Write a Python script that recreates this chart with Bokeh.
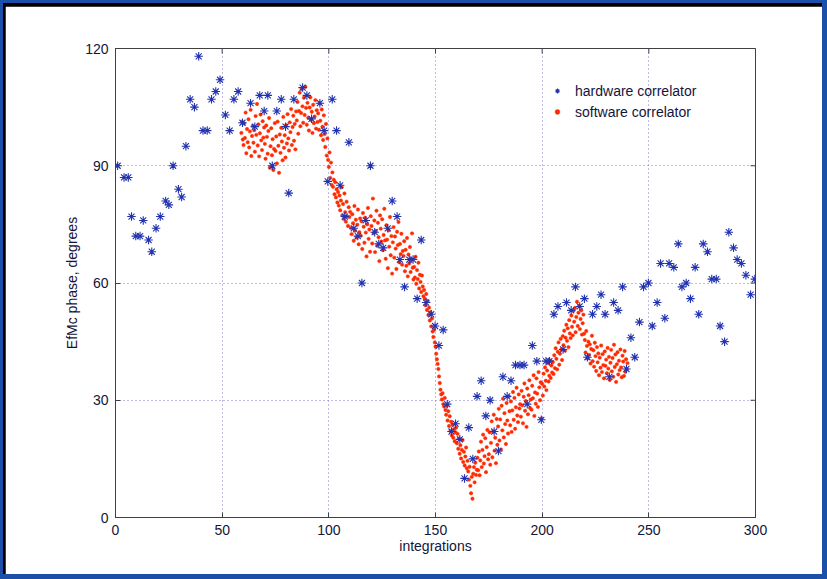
import math
from bokeh.plotting import figure
from bokeh.models import Range1d, Legend, LegendItem, FixedTicker, ColumnDataSource
from bokeh.embed import file_html
from bokeh.resources import INLINE

# ---------------- data ----------------
x_ticks = [0, 50, 100, 150, 200, 250, 300]
y_ticks = [0, 30, 60, 90, 120]

hw_x = [1, 4, 6, 7.5, 9.5, 11.5, 13, 15.5, 17, 19, 21, 23.5, 25, 27, 29.5, 31, 33, 35, 37, 39,
        41, 43, 45, 47, 49, 51.5, 53.5, 55.5, 57.5, 59.5, 63.3, 65.3, 67.6, 69.7, 71.4, 73.5,
        75.6, 77.7, 79.7, 81.2, 83.6, 87.7, 89.7, 91.9, 95.8, 97.8, 99.5, 101.6, 103.6, 105.3,
        107.5, 109.4, 111.7, 113.6, 115.5, 117.3, 119.5, 121.5, 123.4, 125.5, 127.6, 129.7,
        132, 133.3, 135.5, 137.7, 139.5, 141.4, 143.3, 145.6, 148, 149.8, 151.6, 153.6, 155.5,
        157.5, 159.4, 161.4, 163.6, 165.6, 167.5, 169.5, 171.4, 173.6, 175.6, 177.5, 179.5,
        181.6, 183.6, 185.4, 187.5, 189.6, 191.5, 193, 195.4, 197.5, 199.6, 201.8, 203.4,
        205.5, 207.4, 209.8, 211.4, 213.6, 215.6, 217.6, 219.8, 221.2, 223.6, 225.6, 227.6,
        229.5, 231.5, 233.5, 235.6, 237.7, 239.5, 241.6, 243.4, 245.6, 247.5, 249.8, 251.6,
        253.9, 255.5, 257.5, 259.5, 261.7, 263.8, 265.5, 267.5, 269.5, 271.7, 273.4, 275.5,
        277.5, 279.5, 281.6, 283.4, 285.5, 287.5, 289.7, 291.4, 293.4, 295.5, 297.7, 299.7]
hw_y = [90, 87, 87, 77, 72, 72, 76, 71, 68, 74, 77, 81, 80, 90, 84, 82, 95, 107, 105, 118,
        99, 99, 107, 109, 112, 103, 99, 107, 109, 101, 106, 100, 108, 104, 108, 90,
        104, 107, 100, 83, 107, 110, 108, 102, 106, 99, 86, 107, 99, 85,
        77, 96, 74, 72, 60, 76, 90, 73, 70, 69, 74, 81,
        77, 66, 59, 66, 66, 56, 71, 55, 52, 49, 44, 48, 29,
        22, 24, 20, 10, 23, 15, 31, 35, 26, 30, 22, 17,
        36, 31, 35, 39, 39, 39, 29, 44, 40, 25, 40, 40,
        52, 54, 43, 55, 53, 59, 54, 56, 41, 52, 54, 57,
        52, 36, 55, 53, 59, 38, 46, 41, 50, 59, 60, 49,
        55, 65, 51, 65, 64, 70, 59, 60, 56, 64, 52, 70,
        68, 61, 61, 49, 45, 73, 69, 66, 65, 62, 57, 61]

# software correlator: three samples per integration, starting at integration 59
sw_start = 59.0
sw_per_integration = 3
sw_y = [98.4, 101.2, 96.7,
        95.3, 100.8, 97.1, 103.6, 93.2, 99.4, 96.0, 101.9, 94.7, 98.8, 104.3, 92.5, 97.6, 100.2, 95.9,
        99.1, 93.6, 102.7, 97.9, 105.8, 95.2, 100.6, 92.4, 98.3, 103.1, 96.5, 94.0, 101.4, 97.2, 99.8,
        95.6, 91.8, 100.3, 97.4, 93.1, 98.9, 102.2, 89.5, 95.0, 99.6, 92.7, 96.8, 88.9, 94.3, 100.9,
        93.8, 97.5, 90.6, 101.3, 95.1, 88.2, 98.0, 93.3, 99.7, 96.2, 91.4, 102.5, 94.6, 97.8, 92.1,
        100.4, 95.7, 103.2, 97.0, 93.9, 101.1, 98.6, 104.5, 95.3, 99.9, 102.8, 96.4, 100.7, 94.2, 103.9,
        101.6, 106.3, 98.2, 104.0, 108.7, 100.1, 103.5, 109.6, 105.2, 101.0, 107.4, 103.0, 110.2, 104.8, 100.5,
        106.1, 102.3, 99.0, 104.9, 107.5, 101.7, 103.8, 98.4, 105.6, 100.9, 102.6, 106.8, 99.5, 104.2, 101.2,
        103.4, 99.2, 106.0, 101.5, 97.8, 104.4, 100.0, 96.6, 102.9, 98.1, 94.8, 100.7, 92.6, 97.0, 91.5,
        89.7, 93.4, 86.9, 90.8, 85.1, 88.3, 84.6, 86.4, 82.7, 85.8, 81.9, 84.0, 80.6, 83.3, 79.8,
        82.4, 78.6, 81.1, 84.5, 77.3, 80.2, 76.4, 82.9, 78.1, 75.7, 80.8, 77.0, 74.6, 79.4, 76.9,
        78.2, 74.1, 72.5, 77.6, 75.3, 70.8, 79.7, 73.4, 76.2, 71.6, 74.9, 78.8, 69.9, 73.0, 76.5,
        72.1, 75.8, 68.7, 77.9, 74.4, 70.3, 76.7, 72.9, 66.8, 75.0, 79.2, 71.3, 73.7, 68.0, 77.1,
        74.6, 70.1, 81.6, 72.8, 76.0, 67.9, 73.3, 78.5, 69.5, 75.4, 71.7, 65.6, 77.3, 73.9, 70.6,
        76.3, 68.4, 72.3, 79.0, 70.9, 66.2, 74.8, 71.1, 63.8, 73.5, 69.3, 76.9, 67.1, 72.0, 62.4,
        70.4, 74.3, 66.5, 71.9, 68.8, 63.6, 73.1, 69.7, 75.6, 65.3, 70.0, 67.4, 72.6, 64.7, 68.2,
        66.9, 70.7, 63.0, 68.5, 64.4, 71.5, 61.7, 67.3, 65.0, 69.2, 62.8, 66.0, 72.7, 63.9, 60.9,
        64.1, 61.4, 66.7, 59.8, 63.3, 61.0, 65.2, 58.6, 62.1, 60.3, 57.7, 61.9, 59.1, 56.6, 58.2,
        56.0, 54.3, 57.2, 53.1, 55.4, 51.8, 53.7, 50.4, 52.5, 48.9, 50.9, 47.6, 46.2, 48.0, 44.8,
        43.7, 41.9, 40.5, 39.3, 38.0, 36.1, 34.4, 32.7, 31.5, 30.2, 31.8, 29.0, 28.4, 30.6, 27.5,
        26.3, 28.6, 24.8, 27.2, 23.4, 25.9, 22.1, 24.5, 21.0, 23.7, 20.4, 22.6, 19.5, 21.8, 23.0,
        19.0, 21.4, 17.6, 20.2, 16.3, 18.5, 15.1, 17.3, 19.8, 14.2, 16.8, 13.3, 15.6, 17.9, 12.6,
        14.5, 11.8, 9.7, 13.0, 8.1, 6.2, 10.4, 4.8, 11.2, 12.9, 9.0, 14.0, 10.9, 12.2, 15.3,
        12.1, 16.9, 10.8, 14.6, 19.4, 12.9, 17.3, 21.2, 13.8, 15.7, 20.3, 11.6, 18.0, 22.4, 14.9,
        16.2, 21.8, 13.5, 19.1, 24.6, 15.4, 22.0, 26.3, 17.1, 20.4, 13.9, 25.2, 18.6, 23.3, 27.8,
        19.7, 25.1, 17.4, 28.6, 22.3, 30.4, 20.5, 26.7, 23.9, 18.8, 29.3, 24.8, 21.5, 31.0, 27.2,
        23.6, 29.7, 21.9, 27.4, 32.1, 25.0, 30.6, 22.7, 28.2, 33.2, 26.1, 24.4, 31.5, 27.9, 29.0,
        25.8, 32.4, 28.7, 24.1, 30.9, 34.3, 27.3, 29.8, 23.2, 33.0, 26.4, 31.3, 35.1, 28.0, 30.2,
        27.6, 33.7, 30.5, 36.4, 26.0, 32.0, 29.1, 35.6, 31.7, 28.3, 37.2, 33.3, 30.0, 34.6, 25.3,
        34.2, 31.2, 36.8, 33.5, 38.4, 35.0, 32.6, 37.6, 39.5, 34.8, 36.3, 40.2, 35.7, 38.9, 37.1,
        39.8, 36.7, 41.5, 38.2, 43.3, 40.6, 37.9, 42.4, 44.8, 39.1, 41.9, 45.7, 43.0, 40.3, 46.4,
        44.1, 47.8, 42.7, 46.0, 49.3, 45.2, 48.4, 43.6, 50.5, 47.1, 45.9, 51.7, 48.8, 46.6, 52.9,
        50.1, 53.6, 47.4, 51.3, 55.2, 49.0, 52.4, 54.1, 48.2, 50.8, 53.0, 46.8, 49.7, 51.9, 47.0,
        45.4, 42.2, 47.7, 43.9, 40.7, 45.0, 41.6, 44.3, 39.4, 43.1, 46.5, 40.0, 42.8, 38.6, 44.7,
        41.3, 37.5, 43.6, 39.7, 42.0, 36.4, 40.9, 38.3, 44.0, 37.2, 41.8, 39.0, 35.6, 42.5, 38.8,
        40.4, 36.9, 43.4, 38.1, 41.1, 35.2, 39.6, 42.9, 37.4, 40.8, 36.0, 44.2, 38.5, 41.7, 34.7,
        39.2, 42.3, 36.6, 40.1, 37.7, 43.0, 38.4, 35.9, 41.4, 39.9, 36.2, 42.6, 37.3, 40.5, 38.0,
        39.5]
sw_x = [sw_start + i / sw_per_integration for i in range(len(sw_y))]

# ---------------- figure ----------------
TXT = "#14143c"
FONT = "Liberation Sans"
AXC = "#404040"

p = figure(width=827, height=579, x_range=Range1d(0, 300), y_range=Range1d(0, 120),
           output_backend="svg", toolbar_location=None,
           min_border_left=110, min_border_right=77, min_border_top=42, min_border_bottom=68)
p.styles = {"border-style": "solid", "border-color": "#1b4fa8",
            "border-width": "3px 5px 5px 3px", "padding": "3px 0px 0px 2px",
            "background-color": "#000000", "box-sizing": "border-box"}
p.background_fill_color = "white"
p.border_fill_color = "white"
p.outline_line_color = AXC
p.outline_line_width = 1

for ax, ticks in ((p.xaxis, x_ticks), (p.yaxis, y_ticks)):
    ax.ticker = FixedTicker(ticks=ticks)
    ax.major_tick_in = 5
    ax.major_tick_out = 0
    ax.minor_tick_line_color = None
    ax.axis_line_color = AXC
    ax.major_tick_line_color = AXC
    ax.major_label_text_font = FONT
    ax.major_label_text_font_size = "14px"
    ax.major_label_text_color = TXT
    ax.axis_label_text_font = FONT
    ax.axis_label_text_font_size = "14px"
    ax.axis_label_text_font_style = "normal"
    ax.axis_label_text_color = TXT

p.xaxis.axis_label = "integrations"
p.yaxis.axis_label = "EfMc phase, degrees"
p.xaxis.major_label_standoff = 7
p.xaxis.axis_label_standoff = 0
p.yaxis.major_label_standoff = 7
p.yaxis.axis_label_standoff = 2

# inward ticks on the top and right edges of the box
p.ray(x=x_ticks, y=[120] * len(x_ticks), length=5, length_units="screen",
      angle=-math.pi / 2, line_color=AXC, line_width=1)
p.ray(x=[300] * len(y_ticks), y=y_ticks, length=5, length_units="screen",
      angle=math.pi, line_color=AXC, line_width=1)

p.xgrid.ticker = FixedTicker(ticks=x_ticks)
p.ygrid.ticker = FixedTicker(ticks=y_ticks)
for g in (p.xgrid, p.ygrid):
    g.grid_line_color = "#6a6ac8"
    g.grid_line_dash = "1 3"
    g.grid_line_width = 1
    g.grid_line_alpha = 0.9

sw_src = ColumnDataSource(dict(x=sw_x, y=sw_y))
hw_src = ColumnDataSource(dict(x=hw_x, y=hw_y))

r_sw = p.scatter("x", "y", source=sw_src, marker="circle", size=3.4,
                 fill_color="#ff2a00", line_color="#ff2a00", line_width=0.5)
r_hw = p.scatter("x", "y", source=hw_src, marker="asterisk", size=8.5,
                 line_color="#2233b0", line_width=1.1)

legend = Legend(items=[LegendItem(label="hardware correlator", renderers=[r_hw]),
                       LegendItem(label="software correlator", renderers=[r_sw])],
                location=(436, 397), padding=0, margin=0, spacing=4,
                label_height=17, glyph_height=17, glyph_width=12, label_standoff=12,
                border_line_color=None, background_fill_alpha=0,
                label_text_font=FONT, label_text_font_size="14px", label_text_color=TXT)
p.add_layout(legend, "center")

open("out.html", "w").write(file_html(p, INLINE))
